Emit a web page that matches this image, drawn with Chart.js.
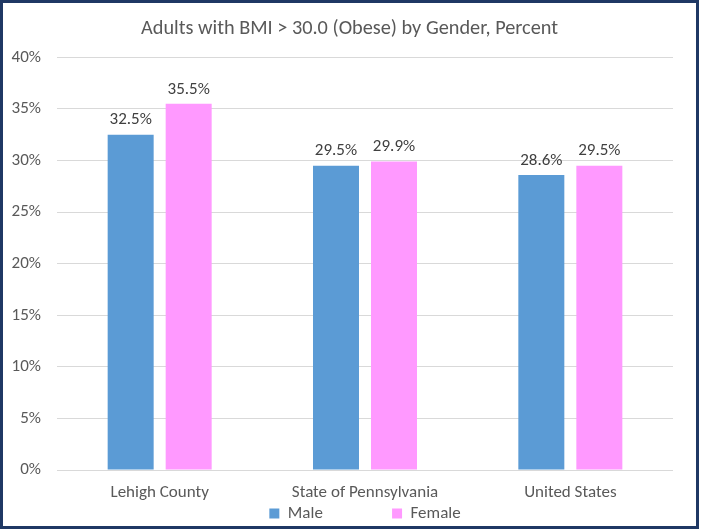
<!DOCTYPE html>
<html>
<head>
<meta charset="utf-8">
<script src="https://cdn.jsdelivr.net/npm/chart.js@4/dist/chart.umd.min.js"></script>
<style>
    html, body {
        margin: 0;
        padding: 0;
        background: #ffffff;
    }

    .bingkai {
        position: absolute;
        left: 0;
        top: 0;
        width: 699px;
        height: 529px;
        box-sizing: border-box;
        border: 3px solid #1f3864;
        background: #ffffff;
        overflow: hidden;
    }

    .bingkai canvas {
        display: block;
    }
</style>
</head>
<body>
<div class="bingkai">
    <canvas id="grafikObesitas" width="693" height="529"></canvas>
</div>

<script>
    const wilayah = ["Lehigh County", "State of Pennsylvania", "United States"];
    const nilaiPria = [32.5, 29.5, 28.6];
    const nilaiWanita = [35.5, 29.9, 29.5];
    const batasSumbuY = [0, 40, 5];

    const hurufDasar = "Carlito, Calibri, Lato, sans-serif";
    const warnaTeks = "#595959";

    // label persen di atas setiap batang
    const labelNilai = {
        id: "labelNilai",
        afterDatasetsDraw(chart) {
            const ctx = chart.ctx;
            ctx.save();
            ctx.font = "17px " + hurufDasar;
            ctx.fillStyle = "#404040";
            ctx.textAlign = "center";
            ctx.textBaseline = "bottom";
            chart.data.datasets.forEach((dataset, i) => {
                chart.getDatasetMeta(i).data.forEach((batang, j) => {
                    ctx.fillText(dataset.data[j].toFixed(1) + "%", batang.x, batang.y - 6);
                });
            });
            ctx.restore();
        },
    };

    new Chart(document.getElementById("grafikObesitas"), {
        type: "bar",
        data: {
            labels: wilayah,
            datasets: [
                {
                    label: "Male",
                    data: nilaiPria,
                    backgroundColor: "#5b9bd5",
                    categoryPercentage: 0.565,
                    barPercentage: 0.793,
                },
                {
                    label: "Female",
                    data: nilaiWanita,
                    backgroundColor: "#ff99ff",
                    categoryPercentage: 0.565,
                    barPercentage: 0.793,
                },
            ],
        },
        options: {
            responsive: false,
            animation: false,
            layout: {
                padding: 0,
            },
            plugins: {
                title: {
                    display: true,
                    text: "Adults with BMI > 30.0 (Obese) by Gender, Percent",
                    color: warnaTeks,
                    font: { family: hurufDasar, size: 20.3, weight: "normal" },
                    padding: { top: 14, bottom: 16 },
                },
                legend: {
                    position: "bottom",
                    fullSize: false,
                    labels: {
                        color: warnaTeks,
                        font: { family: hurufDasar, size: 17 },
                        boxWidth: 10,
                        boxHeight: 10,
                        padding: 0,
                        generateLabels(chart) {
                            const bawaan = Chart.defaults.plugins.legend.labels.generateLabels(chart);
                            // jarak lebar antara "Male" dan "Female"
                            bawaan[0].text = bawaan[0].text + "\u0020".repeat(18);
                            return bawaan;
                        },
                    },
                },
                tooltip: { enabled: false },
            },
            scales: {
                x: {
                    grid: { display: false, drawTicks: false },
                    border: { display: false },
                    ticks: {
                        color: warnaTeks,
                        font: { family: hurufDasar, size: 17 },
                        padding: 13,
                    },
                    afterFit(scale) {
                        scale.height = 35;
                    },
                },
                y: {
                    min: batasSumbuY[0],
                    max: batasSumbuY[1],
                    grid: { color: "#d9d9d9", drawTicks: false },
                    border: { display: false },
                    ticks: {
                        stepSize: batasSumbuY[2],
                        color: warnaTeks,
                        font: { family: hurufDasar, size: 17 },
                        padding: 16,
                        callback: (nilai) => nilai + "%",
                    },
                    afterFit(scale) {
                        scale.width = 54;
                    },
                },
                // ruang kosong di sisi kanan area plot
                tepiKanan: {
                    position: "right",
                    grid: { display: false, drawTicks: false },
                    border: { display: false },
                    ticks: { display: false },
                    afterFit(scale) {
                        scale.width = 23;
                    },
                },
            },
        },
        plugins: [labelNilai],
    });
</script>
</body>
</html>
